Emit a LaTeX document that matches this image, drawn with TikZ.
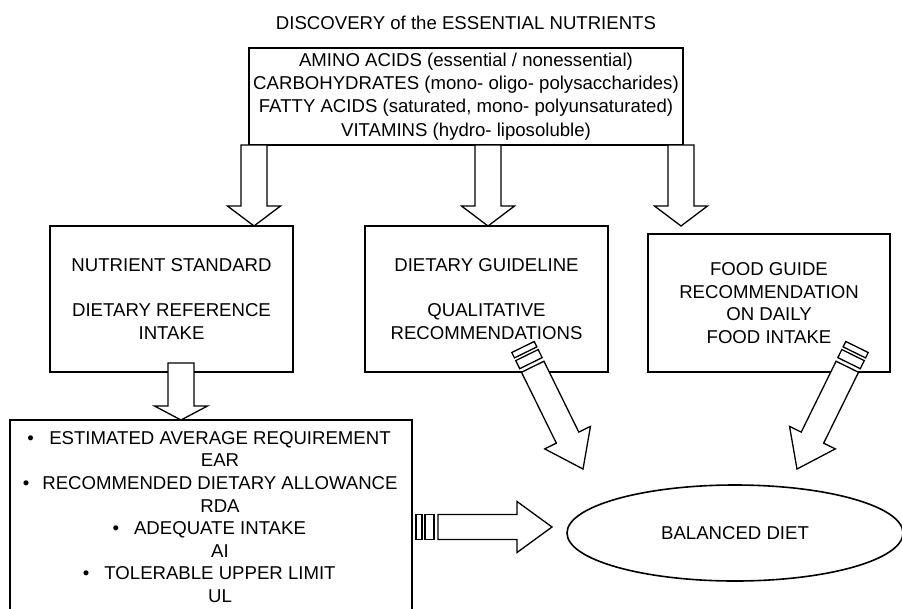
\documentclass[tikz,border=0pt]{standalone}
\usepackage{fontspec}
\setmainfont{Liberation Sans}
\usetikzlibrary{shapes.geometric}
\begin{document}
\begin{tikzpicture}[x=1pt,y=-1pt,
  txt/.style={font=\fontsize{18.6}{22.6}\selectfont, align=center, inner sep=0pt},
  boxline/.style={draw=black, line width=1.6pt},
  arrowline/.style={draw=black, fill=white, line width=1.3pt, line join=miter},
  % hollow block arrow pointing down: shaft length #1, head length #2
  pics/blockdown/.style 2 args={code={
    \path[arrowline] (-13,0) -- (-13,#1) -- (-26.5,#1) -- (0,#1+#2)
      -- (26.5,#1) -- (13,#1) -- (13,0) -- cycle;}},
  % striped block arrow along +x, tail at the origin
  pics/stripearrow/.style={code={
    \path[arrowline] (0,-12.5) rectangle (6,12.5);
    \path[arrowline] (9,-12.5) rectangle (18,12.5);
    \path[arrowline] (22,-12.5) -- (101,-12.5) -- (101,-25.5) -- (136,0)
      -- (101,25.5) -- (101,12.5) -- (22,12.5) -- cycle;}}
]
\useasboundingbox[fill=white] (0,0) rectangle (902,608);

% title
\node[txt] (title) at (466,23) {DISCOVERY of the ESSENTIAL NUTRIENTS};

% nutrient classes
\node[boxline, txt, font=\fontsize{18.6}{23.3}\selectfont,
      minimum width=434pt, minimum height=97pt] (nutr) at (466,96.5)
  {AMINO ACIDS (essential / nonessential)\\
   CARBOHYDRATES (mono- oligo- polysaccharides)\\
   FATTY ACIDS (saturated, mono- polyunsaturated)\\
   VITAMINS (hydro- liposoluble)};

% three approaches
\node[boxline, txt, minimum width=243pt, minimum height=146pt] (nstd) at (171.5,299)
  {NUTRIENT STANDARD\\[22.6pt]DIETARY REFERENCE\\INTAKE};
\node[boxline, txt, minimum width=243pt, minimum height=146pt] (guide) at (486.5,299)
  {DIETARY GUIDELINE\\[22.6pt]QUALITATIVE\\RECOMMENDATIONS};
\node[boxline, txt, minimum width=242pt, minimum height=138pt] (food) at (769,303)
  {FOOD GUIDE\\RECOMMENDATION\\ON DAILY\\FOOD INTAKE};

% reference values
\node[boxline, minimum width=402pt, minimum height=192pt] (dri) at (211,516) {};
\node[txt] (drilist) at (220,517)
  {\llap{•\hspace{15.5pt}}ESTIMATED AVERAGE REQUIREMENT\\
   EAR\\
   \llap{•\hspace{13pt}}RECOMMENDED DIETARY ALLOWANCE\\
   RDA\\
   \llap{•\hspace{15pt}}ADEQUATE INTAKE\\
   AI\\
   \llap{•\hspace{15pt}}TOLERABLE UPPER LIMIT\\
   UL};

% goal
\node[boxline, ellipse, txt, minimum width=336pt, minimum height=96pt] (diet) at (735,533)
  {BALANCED DIET};

% arrow anchors
\coordinate (a1) at (254,145);
\coordinate (a2) at (488,145);
\coordinate (a3) at (681,145);
\coordinate (a4) at (181,363);
\coordinate (s1) at (523,347);
\coordinate (s2) at (857,347);
\coordinate (s3) at (416,527);

% arrows
\pic at (a1) {blockdown={61}{20}};
\pic at (a2) {blockdown={61}{20}};
\pic at (a3) {blockdown={61}{20}};
\pic at (a4) {blockdown={43}{14}};
\pic[rotate=-63.81] at (s1) {stripearrow};
\pic[rotate=-116.19] at (s2) {stripearrow};
\pic at (s3) {stripearrow};
\end{tikzpicture}
\end{document}
